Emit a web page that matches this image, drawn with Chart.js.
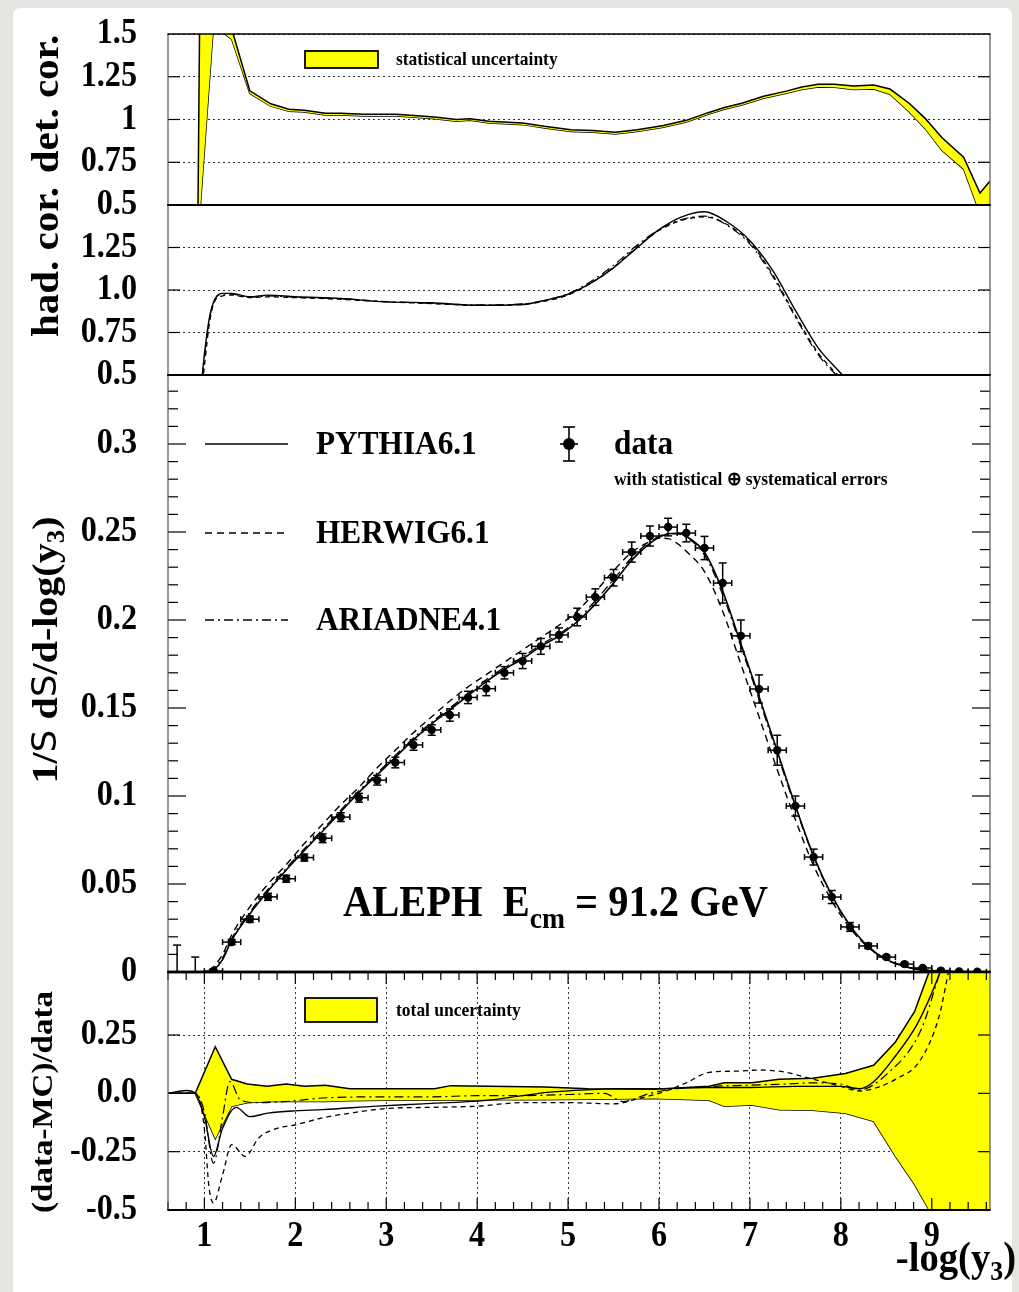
<!DOCTYPE html>
<html><head><meta charset="utf-8">
<script src="https://cdn.jsdelivr.net/npm/chart.js@4.4.1/dist/chart.umd.min.js"></script>
<style>
html,body{margin:0;padding:0;background:#e6e4e1;width:1019px;height:1292px;overflow:hidden;position:relative}
#card{position:absolute;left:13px;top:8px;width:999px;height:1300px;background:#fff;border-radius:7px}
canvas{position:absolute;left:0}
</style></head><body>
<div id="card"></div>
<canvas id="cDet" width="1019" height="232" style="top:0px"></canvas>
<canvas id="cHad" width="1019" height="220" style="top:180px"></canvas>
<canvas id="cMain" width="1019" height="650" style="top:350px"></canvas>
<canvas id="cRat" width="1019" height="352" style="top:940px"></canvas>
<script>
// ---------------- DATA ----------------
const X_MIN = 0.6, X_MAX = 9.64;
const xTickVals = [1,2,3,4,5,6,7,8,9];
const xTickLabels = ['1','2','3','4','5','6','7','8','9'];

// detector correction (statistical band, upper / lower edge)
const detX  = [0.6,0.93,0.95,1.1,1.3,1.5,1.73,1.93,2.1,2.33,2.5,2.75,3.11,3.53,3.77,3.92,4.13,4.5,4.74,5.03,5.27,5.52,5.76,6.05,6.3,6.54,6.72,6.91,7.15,7.4,7.57,7.75,7.93,8.14,8.36,8.54,8.75,8.93,9.11,9.35,9.53,9.64];
const detHi = [0.5,0.5,1.7,1.7,1.53,1.168,1.092,1.06,1.054,1.036,1.036,1.03,1.03,1.015,1.0,1.005,0.99,0.98,0.96,0.94,0.935,0.925,0.94,0.965,0.995,1.04,1.07,1.095,1.136,1.166,1.19,1.206,1.206,1.196,1.202,1.178,1.095,1.005,0.895,0.78,0.57,0.64];
const detLo = [0.4,0.4,0.45,1.55,1.47,1.152,1.078,1.048,1.044,1.026,1.026,1.02,1.02,1.005,0.99,0.995,0.98,0.97,0.95,0.93,0.925,0.915,0.93,0.955,0.985,1.03,1.06,1.085,1.124,1.154,1.176,1.19,1.188,1.176,1.178,1.148,1.045,0.945,0.82,0.71,0.45,0.48];
const detTickVals = [0.5,0.75,1,1.25,1.5];
const detTickLabels = ['0.5','0.75','1','1.25','1.5'];

// hadronisation correction
const hadX       = [0.96,1.0,1.06,1.12,1.2,1.3,1.5,1.7,2.0,2.5,3.0,3.5,4.0,4.5,4.75,5.0,5.25,5.5,5.75,6.0,6.25,6.5,6.75,7.0,7.25,7.5,7.75,8.0,8.2];
const hadPythia  = [0.40,0.62,0.85,0.95,0.98,0.98,0.96,0.97,0.96,0.95,0.93,0.925,0.91,0.915,0.94,0.975,1.04,1.13,1.245,1.355,1.43,1.46,1.40,1.29,1.115,0.88,0.66,0.51,0.38];
const hadHerwig  = [0.35,0.55,0.82,0.94,0.965,0.97,0.955,0.96,0.955,0.945,0.93,0.92,0.91,0.915,0.935,0.97,1.04,1.135,1.25,1.35,1.41,1.43,1.385,1.28,1.09,0.85,0.63,0.48,0.36];
const hadAriadne = [0.38,0.60,0.84,0.95,0.975,0.975,0.958,0.965,0.958,0.948,0.932,0.922,0.912,0.918,0.94,0.978,1.05,1.145,1.26,1.355,1.415,1.435,1.38,1.27,1.08,0.84,0.62,0.47,0.35];
const hadTickVals = [0.5,0.75,1.0,1.25];
const hadTickLabels = ['0.5','0.75','1.0','1.25'];

// main distribution: data
const dataX = [0.7,0.9,1.1,1.3,1.5,1.7,1.9,2.1,2.3,2.5,2.7,2.9,3.1,3.3,3.5,3.7,3.9,4.1,4.3,4.5,4.7,4.9,5.1,5.3,5.5,5.7,5.9,6.1,6.3,6.5,6.7,6.9,7.1,7.3,7.5,7.7,7.9,8.1,8.3,8.5,8.7,8.9,9.1,9.3,9.5];
const dataY = [0,0,0.0005,0.017,0.030,0.0427,0.053,0.065,0.076,0.088,0.099,0.109,0.119,0.129,0.1375,0.146,0.156,0.161,0.170,0.1767,0.185,0.1915,0.2017,0.213,0.224,0.2386,0.2477,0.2528,0.2494,0.2409,0.221,0.191,0.1608,0.126,0.0943,0.0653,0.0426,0.0256,0.0148,0.0085,0.0045,0.0023,0.0008,0.0003,0.0001];
const dataErr = [0.0153,0.0085,0.001,0.0015,0.0018,0.002,0.002,0.002,0.0025,0.0025,0.0025,0.0028,0.003,0.003,0.003,0.0035,0.0035,0.004,0.0035,0.0043,0.0045,0.004,0.005,0.0047,0.0047,0.0057,0.0057,0.005,0.005,0.0066,0.0114,0.009,0.008,0.0085,0.0057,0.0045,0.0037,0.0025,0.0015,0.001,0.0008,0.0006,0.0005,0.0003,0.0002];
const BIN_HALF = 0.1;
// main distribution: MC
const mcX = [1.05,1.1,1.2,1.3,1.5,1.7,1.9,2.1,2.3,2.5,2.7,2.9,3.1,3.3,3.5,3.7,3.9,4.1,4.3,4.5,4.7,4.9,5.1,5.3,5.5,5.7,5.9,6.0,6.1,6.2,6.3,6.5,6.7,6.9,7.1,7.3,7.5,7.7,7.9,8.1,8.3,8.5,8.7,8.9,9.1,9.3,9.64];
const mcPythia  = [0,0.001,0.007,0.018,0.033,0.046,0.058,0.069,0.080,0.091,0.102,0.112,0.122,0.132,0.141,0.149,0.157,0.165,0.172,0.178,0.185,0.191,0.199,0.209,0.221,0.234,0.2435,0.247,0.249,0.2493,0.2475,0.2385,0.2165,0.1865,0.1565,0.1255,0.0945,0.066,0.0435,0.0265,0.0145,0.0072,0.0032,0.0012,0.0004,0.0001,0];
const mcHerwig  = [0.001,0.003,0.010,0.021,0.037,0.050,0.061,0.073,0.084,0.095,0.105,0.116,0.126,0.136,0.145,0.154,0.162,0.169,0.176,0.183,0.190,0.197,0.205,0.216,0.228,0.2385,0.2445,0.2465,0.2462,0.2435,0.239,0.2275,0.205,0.175,0.145,0.115,0.0865,0.0605,0.0405,0.025,0.014,0.007,0.0031,0.0011,0.0003,0.0001,0];
const mcAriadne = [0,0.002,0.008,0.019,0.034,0.047,0.059,0.070,0.081,0.092,0.103,0.113,0.123,0.133,0.142,0.150,0.158,0.166,0.173,0.179,0.186,0.192,0.200,0.211,0.223,0.2355,0.2445,0.2475,0.249,0.249,0.247,0.237,0.2145,0.185,0.155,0.124,0.0935,0.0655,0.043,0.026,0.0142,0.007,0.0031,0.0012,0.0004,0.0001,0];
const mainTickVals = [0,0.05,0.1,0.15,0.2,0.25,0.3];
const mainTickLabels = ['0','0.05','0.1','0.15','0.2','0.25','0.3'];

// ratio panel
const bandX  = [0.6,0.9,1.12,1.3,1.47,1.69,1.9,2.1,2.33,2.6,3.0,3.53,3.71,4.13,4.74,5.22,5.95,6.55,6.72,7.02,7.32,7.69,8.05,8.36,8.6,8.81,8.97,9.2,9.64];
const bandHi = [0,0,0.2,0.06,0.04,0.03,0.04,0.03,0.035,0.02,0.02,0.02,0.033,0.03,0.027,0.02,0.017,0.03,0.045,0.045,0.06,0.065,0.085,0.12,0.22,0.35,0.52,0.8,0.8];
const bandLo = [0,0,-0.195,-0.055,-0.04,-0.035,-0.035,-0.035,-0.035,-0.032,-0.03,-0.03,-0.03,-0.027,-0.027,-0.025,-0.022,-0.03,-0.055,-0.05,-0.07,-0.072,-0.085,-0.12,-0.27,-0.39,-0.5,-0.8,-0.8];
const ratPythiaX = [0.6,0.8,0.9,1.0,1.1,1.2,1.35,1.5,1.7,2.0,2.3,2.9,3.4,4.1,4.5,4.8,5.2,5.6,6.0,6.5,7.0,7.5,8.0,8.2,8.36,8.6,8.83,9.0,9.12,9.2];
const ratPythia  = [0,0.012,0,-0.1,-0.27,-0.15,-0.06,-0.1,-0.085,-0.075,-0.07,-0.055,-0.045,-0.03,-0.01,0.005,0.015,0.02,0.02,0.025,0.025,0.03,0.03,0.02,0.05,0.16,0.29,0.43,0.55,0.65];
const ratHerwigX = [0.6,0.9,1.0,1.05,1.1,1.2,1.3,1.45,1.6,1.8,2.0,2.3,2.6,3.0,3.5,4.0,4.5,5.0,5.5,5.8,6.0,6.3,6.55,6.85,7.1,7.4,7.6,8.0,8.2,8.4,8.6,8.87,9.08,9.2,9.3];
const ratHerwig  = [0,0,-0.15,-0.4,-0.47,-0.35,-0.22,-0.27,-0.19,-0.15,-0.135,-0.105,-0.085,-0.065,-0.06,-0.055,-0.04,-0.04,-0.045,-0.02,0.0,0.045,0.09,0.095,0.1,0.09,0.07,0.03,0.01,0.025,0.06,0.14,0.33,0.55,0.7];
const ratAriadneX = [0.6,0.9,1.0,1.1,1.2,1.28,1.4,1.6,1.9,2.3,3.0,3.5,4.0,4.5,5.0,5.4,5.6,5.9,6.2,6.6,7.0,7.4,7.7,8.0,8.2,8.5,8.88,9.05,9.15];
const ratAriadne  = [0,0,-0.08,-0.3,-0.1,0.05,-0.03,-0.04,-0.035,-0.02,-0.015,-0.015,-0.01,-0.01,-0.005,0.0,-0.035,0.0,0.02,0.03,0.035,0.04,0.045,0.04,0.015,0.08,0.27,0.47,0.6];
const ratTickVals = [-0.5,-0.25,0,0.25];
const ratTickLabels = ['-0.5','-0.25','0.0','0.25'];

// ---------------- STYLE / HELPERS ----------------
const SERIF = '"Liberation Serif","Times New Roman",serif';
const SANS = '"DejaVu Sans",sans-serif';
const SX = 0.92;
const YELLOW = '#ffff00';
const DASH_H = [7,5];
const DASH_A = [9,4,2,4];
const TICK_SIZE = 35;

function pts(xs, ys){ return xs.map((x,i)=>({x:x, y:ys[i]})); }
function L(ctx,x1,y1,x2,y2){ ctx.beginPath(); ctx.moveTo(x1,y1); ctx.lineTo(x2,y2); ctx.stroke(); }
function fontStr(p){ return (p.w||'bold')+' '+p.size+'px '+(p.f||SERIF); }
function rich(ctx, parts, x, y, align, rotate){
  ctx.save();
  ctx.translate(x,y);
  if (rotate){ ctx.rotate(-Math.PI/2); ctx.scale(1,SX); } else ctx.scale(SX,1);
  ctx.textBaseline='middle'; ctx.textAlign='left'; ctx.fillStyle='#000';
  let tot=0; const ws = parts.map(p=>{ ctx.font=fontStr(p); const w=ctx.measureText(p.t).width; tot+=w; return w; });
  let cx = align==='right' ? -tot : (align==='center' ? -tot/2 : 0);
  parts.forEach((p,i)=>{ ctx.font=fontStr(p); ctx.fillText(p.t, cx, p.dy||0); cx+=ws[i]; });
  ctx.restore();
}
function yTickLabels(chart, vals, labels){
  const y = chart.scales.y;
  vals.forEach((v,i)=> rich(chart.ctx, [{t:labels[i], size:TICK_SIZE}], 137, y.getPixelForValue(v), 'right'));
}
function xScale(gridOn){
  return { type:'linear', min:X_MIN, max:X_MAX, display:true,
    ticks:{display:false},
    border:{display:false, dash:[2,3]},
    grid: gridOn ? {display:true, drawTicks:false, color:'#333', lineWidth:1} : {display:false},
    afterBuildTicks: s => { s.ticks = xTickVals.map(v=>({value:v})); },
    afterFit: s => { s.height = 0; } };
}
function yScale(min, max, vals, gridOn){
  return { type:'linear', min:min, max:max, display:true, position:'left',
    ticks:{display:false},
    border:{display:false, dash:[2,3]},
    grid: gridOn ? {display:true, drawTicks:false, color:'#333', lineWidth:1} : {display:false},
    afterBuildTicks: s => { s.ticks = vals.map(v=>({value:v})); },
    afterFit: s => { s.width = 168; } };
}
function drawFrame(chart, o){
  const ctx = chart.ctx, a = chart.chartArea, x = chart.scales.x, y = chart.scales.y;
  ctx.save();
  ctx.strokeStyle='#000'; ctx.lineWidth=1.2;
  (o.yMaj||[]).forEach(v=>{ const p=y.getPixelForValue(v); L(ctx,a.left,p,a.left+o.yMajLen,p); L(ctx,a.right,p,a.right-o.yMajLen,p); });
  (o.yMin||[]).forEach(v=>{ const p=y.getPixelForValue(v); L(ctx,a.left,p,a.left+o.yMinLen,p); L(ctx,a.right,p,a.right-o.yMinLen,p); });
  (o.xTicks||[]).forEach(v=>{ const p=x.getPixelForValue(v); const len = Math.abs(v-Math.round(v))<1e-6 ? o.xMajLen : o.xMinLen;
    L(ctx,p,a.top,p,a.top+len); L(ctx,p,a.bottom,p,a.bottom-len); });
  ctx.strokeStyle='#555'; ctx.lineWidth=1.2;
  L(ctx,a.left,a.top,a.left,a.bottom); L(ctx,a.right,a.top,a.right,a.bottom);
  ctx.strokeStyle='#000';
  ctx.lineWidth=o.lwTop; L(ctx,a.left-0.6,a.top,a.right+0.6,a.top);
  ctx.lineWidth=o.lwBot; L(ctx,a.left-0.6,a.bottom,a.right+0.6,a.bottom);
  ctx.restore();
}
function legendBox(ctx, x1, y1, x2, y2){
  ctx.save(); ctx.fillStyle=YELLOW; ctx.fillRect(x1,y1,x2-x1,y2-y1);
  ctx.strokeStyle='#000'; ctx.lineWidth=1.8; ctx.strokeRect(x1,y1,x2-x1,y2-y1); ctx.restore();
}
const baseOpts = (padTop, padBottom) => ({
  responsive:false, animation:false, devicePixelRatio:1,
  layout:{padding:{left:0,right:29,top:padTop,bottom:padBottom}},
  plugins:{legend:{display:false}, tooltip:{enabled:false}},
  elements:{point:{radius:0}, line:{tension:0}}
});
const midTicks = [0.75,1,1.25];

// ---------------- CHART 1 : det. cor. ----------------
new Chart(document.getElementById('cDet'), {
  type:'line',
  data:{ datasets:[
    {data:pts(detX,detHi), borderColor:'#000', borderWidth:1.5, backgroundColor:YELLOW, fill:'+1', pointRadius:0},
    {data:pts(detX,detLo), borderColor:'#000', borderWidth:1.5, fill:false, pointRadius:0}
  ]},
  options:Object.assign(baseOpts(34,27), { scales:{ x:xScale(false), y:yScale(0.5,1.5,detTickVals,true) } }),
  plugins:[{id:'deco1', afterDraw(chart){
    const ctx=chart.ctx;
    drawFrame(chart,{yMaj:midTicks, yMajLen:12, lwTop:1.6, lwBot:2});
    yTickLabels(chart, detTickVals, detTickLabels);
    rich(ctx,[{t:'det. cor.', size:41}], 48, 104, 'center', true);
    legendBox(ctx,305,51,378,68);
    rich(ctx,[{t:'statistical uncertainty', size:19}], 396, 60, 'left');
  }}]
});

// ---------------- CHART 2 : had. cor. ----------------
new Chart(document.getElementById('cHad'), {
  type:'line',
  data:{ datasets:[
    {data:pts(hadX,hadPythia), borderColor:'#000', borderWidth:1.4, cubicInterpolationMode:'monotone', pointRadius:0},
    {data:pts(hadX,hadHerwig), borderColor:'#000', borderWidth:1.3, borderDash:[5,4], cubicInterpolationMode:'monotone', pointRadius:0},
    {data:pts(hadX,hadAriadne), borderColor:'#000', borderWidth:1.2, borderDash:DASH_A, cubicInterpolationMode:'monotone', pointRadius:0}
  ]},
  options:Object.assign(baseOpts(25,25), { scales:{ x:xScale(false), y:yScale(0.5,1.5,hadTickVals.concat([1.5]),true) } }),
  plugins:[{id:'deco2', afterDraw(chart){
    const ctx=chart.ctx;
    drawFrame(chart,{yMaj:midTicks, yMajLen:12, lwTop:2, lwBot:2});
    yTickLabels(chart, hadTickVals, hadTickLabels);
    rich(ctx,[{t:'had. cor.', size:41}], 48, 262-180, 'center', true);
  }}]
});

// ---------------- CHART 3 : main distribution ----------------
const mainMinor = []; for (let k=1;k<=33;k++) if (k%5) mainMinor.push(k/100);
const OFF3 = 350;
new Chart(document.getElementById('cMain'), {
  type:'line',
  data:{ datasets:[
    {data:pts(dataX,dataY), showLine:false, pointRadius:c => (c.raw && c.raw.y > 0) ? 4.2 : 0,
     pointBackgroundColor:'#000', pointBorderColor:'#000', pointBorderWidth:0, order:0},
    {data:pts(mcX,mcPythia), borderColor:'#000', borderWidth:1.6, cubicInterpolationMode:'monotone', pointRadius:0, order:1},
    {data:pts(mcX,mcHerwig), borderColor:'#000', borderWidth:1.4, borderDash:DASH_H, cubicInterpolationMode:'monotone', pointRadius:0, order:1},
    {data:pts(mcX,mcAriadne), borderColor:'#000', borderWidth:1.3, borderDash:DASH_A, cubicInterpolationMode:'monotone', pointRadius:0, order:1}
  ]},
  options:Object.assign(baseOpts(25,28), { scales:{ x:xScale(false), y:yScale(0,0.3392,mainTickVals,false) } }),
  plugins:[{id:'deco3',
    afterDatasetsDraw(chart){
      const ctx=chart.ctx, a=chart.chartArea, x=chart.scales.x, y=chart.scales.y;
      ctx.save(); ctx.beginPath(); ctx.rect(a.left,a.top,a.right-a.left,a.bottom-a.top); ctx.clip();
      ctx.strokeStyle='#000'; ctx.lineWidth=1.5;
      dataX.forEach((xv,i)=>{
        const px=x.getPixelForValue(xv), py=y.getPixelForValue(dataY[i]);
        const pHi=y.getPixelForValue(dataY[i]+dataErr[i]), pLo=y.getPixelForValue(dataY[i]-dataErr[i]);
        const xl=x.getPixelForValue(xv-BIN_HALF), xr=x.getPixelForValue(xv+BIN_HALF);
        L(ctx,px,pHi,px,pLo); L(ctx,px-4,pHi,px+4,pHi); L(ctx,px-4,pLo,px+4,pLo);
        if (dataY[i] > 0) { L(ctx,xl,py,xr,py); L(ctx,xl,py-3,xl,py+3); L(ctx,xr,py-3,xr,py+3); }
      });
      ctx.restore();
    },
    afterDraw(chart){
      const ctx=chart.ctx;
      drawFrame(chart,{yMaj:mainTickVals.slice(1), yMajLen:18, yMin:mainMinor, yMinLen:10, lwTop:2.2, lwBot:2.6});
      yTickLabels(chart, mainTickVals, mainTickLabels);
      rich(ctx,[{t:'1/', size:40},{t:'S', size:36, w:'normal', f:SANS},{t:' d', size:40},{t:'S', size:36, w:'normal', f:SANS},
                {t:'/d-log(y', size:40},{t:'3', size:27, dy:11},{t:')', size:40}], 47, 650-OFF3, 'center', true);
      // legend
      ctx.save(); ctx.strokeStyle='#000';
      ctx.lineWidth=1.6; L(ctx,205,444-OFF3,288,444-OFF3);
      ctx.lineWidth=1.4; ctx.setLineDash(DASH_H); L(ctx,205,533-OFF3,288,533-OFF3);
      ctx.lineWidth=1.3; ctx.setLineDash(DASH_A); L(ctx,205,620-OFF3,288,620-OFF3);
      ctx.setLineDash([]);
      const mx=569, my=444-OFF3; ctx.lineWidth=1.6;
      L(ctx,mx,my-17,mx,my+17); L(ctx,mx-6,my-17,mx+6,my-17); L(ctx,mx-6,my+17,mx+6,my+17); L(ctx,mx-9,my,mx+9,my);
      ctx.fillStyle='#000'; ctx.beginPath(); ctx.arc(mx,my,6,0,2*Math.PI); ctx.fill();
      ctx.restore();
      rich(ctx,[{t:'PYTHIA6.1', size:34}], 316, 445-OFF3, 'left');
      rich(ctx,[{t:'HERWIG6.1', size:34}], 316, 534-OFF3, 'left');
      rich(ctx,[{t:'ARIADNE4.1', size:34}], 316, 621-OFF3, 'left');
      rich(ctx,[{t:'data', size:34}], 614, 445-OFF3, 'left');
      rich(ctx,[{t:'with statistical \u2295 systematical errors', size:19}], 614, 480-OFF3, 'left');
      rich(ctx,[{t:'ALEPH  E', size:44},{t:'cm', size:30, dy:15},{t:' = 91.2 GeV', size:44}], 343, 905-OFF3, 'left');
    }}]
});

// ---------------- CHART 4 : ratio ----------------
const xSmall = []; for (let k=0;k<=45;k++) xSmall.push(Math.round((0.6+0.2*k)*10)/10);
const OFF4 = 940;
new Chart(document.getElementById('cRat'), {
  type:'line',
  data:{ datasets:[
    {data:pts(bandX,bandHi), borderColor:'#000', borderWidth:1.5, backgroundColor:YELLOW, fill:'+1', pointRadius:0, order:5},
    {data:pts(bandX,bandLo), borderColor:'#000', borderWidth:1.5, fill:false, pointRadius:0, order:5},
    {data:pts(ratPythiaX,ratPythia), borderColor:'#000', borderWidth:1.4, fill:false, pointRadius:0, order:1, cubicInterpolationMode:'monotone'},
    {data:pts(ratHerwigX,ratHerwig), borderColor:'#000', borderWidth:1.3, borderDash:[5,4], fill:false, pointRadius:0, order:1, cubicInterpolationMode:'monotone'},
    {data:pts(ratAriadneX,ratAriadne), borderColor:'#000', borderWidth:1.2, borderDash:DASH_A, fill:false, pointRadius:0, order:1, cubicInterpolationMode:'monotone'}
  ]},
  options:Object.assign(baseOpts(32,82), { scales:{ x:xScale(true), y:yScale(-0.5,0.52,ratTickVals,true) } }),
  plugins:[{id:'deco4', afterDraw(chart){
    const ctx=chart.ctx, x=chart.scales.x;
    drawFrame(chart,{yMaj:[-0.25,0,0.25], yMajLen:12, xTicks:xSmall, xMajLen:12, xMinLen:8, lwTop:2.6, lwBot:2});
    yTickLabels(chart, ratTickVals, ratTickLabels);
    xTickVals.forEach((v,i)=> rich(ctx,[{t:xTickLabels[i], size:TICK_SIZE}], x.getPixelForValue(v), 1237-OFF4, 'center'));
    rich(ctx,[{t:'-log(y', size:42},{t:'3', size:28, dy:13},{t:')', size:42}], 1016, 1260-OFF4, 'right');
    rich(ctx,[{t:'(data-MC)/data', size:33}], 44, 1102-OFF4, 'center', true);
    legendBox(ctx,305,998-OFF4,377,1022-OFF4);
    rich(ctx,[{t:'total uncertainty', size:19}], 396, 1011-OFF4, 'left');
  }}]
});
</script></body></html>
